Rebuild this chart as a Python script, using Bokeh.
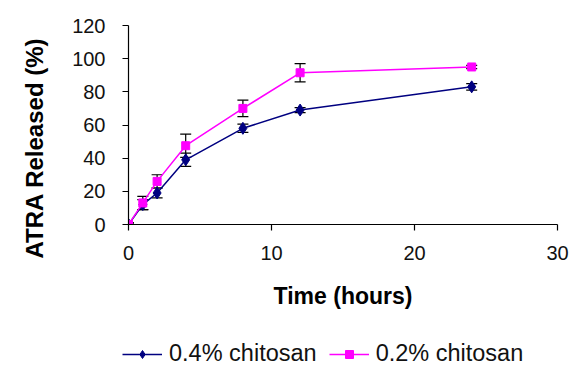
from bokeh.plotting import figure
from bokeh.models import (ColumnDataSource, Whisker, TeeHead, Legend, LegendItem,
                          Range1d, FixedTicker, Title)
from bokeh.embed import file_html
from bokeh.resources import INLINE

time_h = [0, 1, 2, 4, 8, 12, 24]
chitosan_04 = [0, 12, 19, 39, 58, 69, 83]
err_04 = [1, 3, 3, 4, 2.5, 1.5, 2]
chitosan_02 = [0, 13, 26, 47.5, 70, 91.5, 95]
err_02 = [1, 4, 4, 7, 5, 5.5, 1]

x_ticks = [0, 10, 20, 30]
y_ticks = [0, 20, 40, 60, 80, 100, 120]
series_names = ["0.4% chitosan", "0.2% chitosan"]
x_title = "Time (hours)"
y_title = "ATRA Released (%)"

FONT = "Liberation Sans"
NAVY = "#000080"
MAGENTA = "#FF00FF"

p = figure(width=570, height=340, output_backend="svg", toolbar_location=None,
           x_range=Range1d(0, 30), y_range=Range1d(0, 120),
           min_border_left=128, min_border_right=13, min_border_top=25,
           min_border_bottom=116)
p.outline_line_color = None
p.xgrid.visible = False
p.ygrid.visible = False

def lower(v, e):
    return [a - b for a, b in zip(v, e)]

def upper(v, e):
    return [a + b for a, b in zip(v, e)]

src4 = ColumnDataSource(dict(x=time_h, y=chitosan_04,
                             lo=lower(chitosan_04, err_04), hi=upper(chitosan_04, err_04)))
src2 = ColumnDataSource(dict(x=time_h, y=chitosan_02,
                             lo=lower(chitosan_02, err_02), hi=upper(chitosan_02, err_02)))

for src in (src4, src2):
    w = Whisker(source=src, base="x", lower="lo", upper="hi",
                line_color="black", line_width=1.2,
                lower_head=TeeHead(size=11, line_color="black", line_width=1.2),
                upper_head=TeeHead(size=11, line_color="black", line_width=1.2))
    p.add_layout(w)

def draw_series(fig, src):
    a = fig.line("x", "y", source=src[0], line_color=NAVY, line_width=1.5)
    b = fig.scatter("x", "y", source=src[0], marker="diamond", size=12,
                    fill_color=NAVY, line_color=NAVY)
    c = fig.line("x", "y", source=src[1], line_color=MAGENTA, line_width=1.5)
    d = fig.scatter("x", "y", source=src[1], marker="square", size=8,
                    fill_color=MAGENTA, line_color=MAGENTA)
    return a, b, c, d

draw_series(p, (src4, src2))

for ax in (p.xaxis[0], p.yaxis[0]):
    ax.axis_line_color = "black"
    ax.axis_line_width = 1.2
    ax.major_tick_line_color = "black"
    ax.major_tick_line_width = 1.2
    ax.major_tick_out = 6
    ax.major_tick_in = 0
    ax.minor_tick_line_color = None
    ax.major_label_text_font = FONT
    ax.major_label_text_font_size = "20px"
    ax.major_label_text_color = "#111111"
    ax.axis_label_text_font = FONT
    ax.axis_label_text_font_style = "bold"
    ax.axis_label_text_font_size = "23px"
    ax.axis_label_text_color = "black"

p.xaxis.ticker = FixedTicker(ticks=x_ticks)
p.yaxis.ticker = FixedTicker(ticks=y_ticks)
p.xaxis.axis_label = x_title
p.xaxis.major_label_standoff = 15
p.xaxis.axis_label_standoff = 20
p.yaxis.major_label_standoff = 17

# y-axis title as a side title so it can sit slightly below the frame centre
yt = Title(text=y_title, align="left", vertical_align="top", offset=-34, standoff=40,
           text_font=FONT, text_font_style="bold", text_font_size="24px",
           text_color="black")
p.add_layout(yt, "left")

# legend strip below the chart (same series, viewed out of range so only the legend shows)
lg = figure(width=570, height=29, output_backend="svg", toolbar_location=None,
            x_range=Range1d(1000, 1001), y_range=Range1d(1000, 1001),
            min_border=0, x_axis_location=None, y_axis_location=None)
lg.outline_line_color = None
lg.xgrid.visible = False
lg.ygrid.visible = False
r4l, r4m, r2l, r2m = draw_series(lg, (ColumnDataSource(dict(x=time_h, y=chitosan_04)),
                                      ColumnDataSource(dict(x=time_h, y=chitosan_02))))

legend = Legend(items=[LegendItem(label=series_names[0], renderers=[r4l, r4m]),
                       LegendItem(label=series_names[1], renderers=[r2l, r2m])],
                location=(122, 2), orientation="horizontal",
                padding=0, margin=0, spacing=12, label_standoff=7,
                glyph_width=40, glyph_height=20,
                border_line_color=None, background_fill_alpha=0,
                label_text_font=FONT, label_text_font_size="23.5px",
                label_text_color="#111111")
lg.add_layout(legend, "center")

open("out.html", "w").write(file_html([p, lg], INLINE))
